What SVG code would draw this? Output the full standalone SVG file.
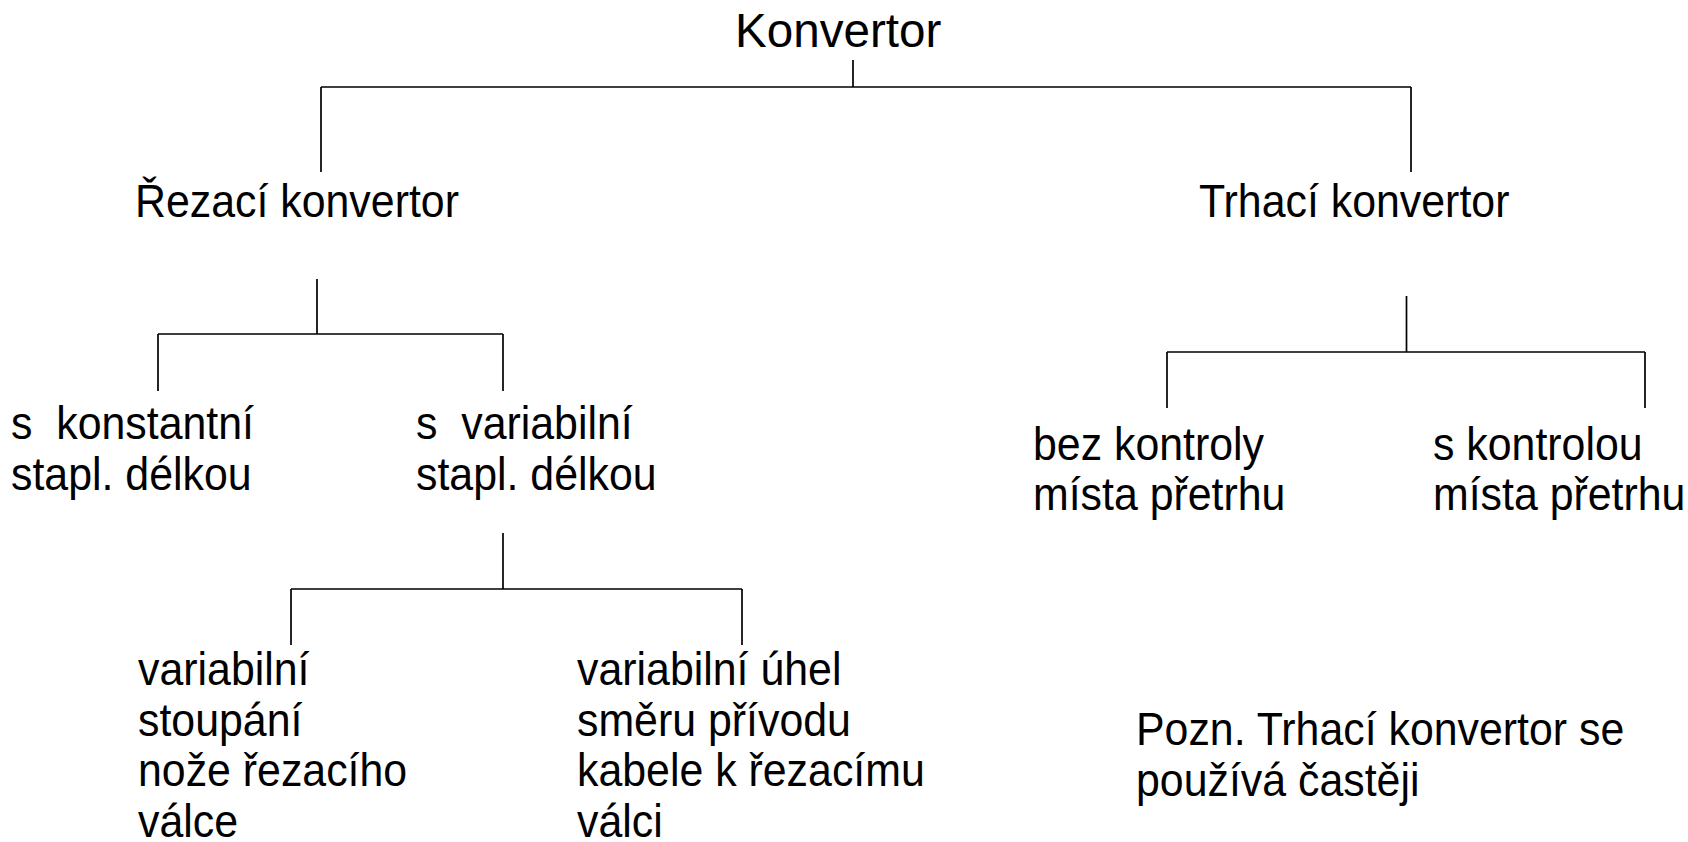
<svg xmlns="http://www.w3.org/2000/svg" width="1688" height="842" viewBox="0 0 1688 842">
<style>
.t{font-family:"Liberation Sans",Arial,sans-serif;font-size:47px;fill:#000;}
.c{stroke:#000;fill:none;stroke-width:1.7;}
</style>
<rect width="1688" height="842" fill="#fff"/>
<g id="connectors">
<path class="c" d="M853,60V87M321,87H1411M321,87V172M1411,87V172"/>
<path class="c" d="M317,279V334M158,334H503M158,334V391M503,334V391"/>
<path class="c" d="M1406.5,296V352M1167,352H1645M1167,352V408M1645,352V408"/>
<path class="c" d="M503,533V589M291,589H742M291,589V645M742,589V645"/>
</g>
<g id="n-konvertor"><text class="t" x="735" y="47" style="font-size:47.6px">Konvertor</text></g>
<g id="n-rezaci"><text class="t" transform="translate(135,217) scale(0.912,1)">Řezací konvertor</text></g>
<g id="n-trhaci"><text class="t" transform="translate(1199,217) scale(0.912,1)">Trhací konvertor</text></g>
<g id="n-konst"><text class="t" xml:space="preserve" transform="translate(11,439) scale(0.912,1)"><tspan x="0" y="0">s  konstantní</tspan><tspan x="0" y="51">stapl. délkou</tspan></text></g>
<g id="n-var"><text class="t" xml:space="preserve" transform="translate(416,439) scale(0.912,1)"><tspan x="0" y="0">s  variabilní</tspan><tspan x="0" y="51">stapl. délkou</tspan></text></g>
<g id="n-bez"><text class="t" transform="translate(1033,460) scale(0.912,1)"><tspan x="0" y="0">bez kontroly</tspan><tspan x="0" y="50">místa přetrhu</tspan></text></g>
<g id="n-skontr"><text class="t" transform="translate(1433,460) scale(0.912,1)"><tspan x="0" y="0">s kontrolou</tspan><tspan x="0" y="50">místa přetrhu</tspan></text></g>
<g id="n-stoupani"><text class="t" transform="translate(138,685) scale(0.912,1)"><tspan x="0" y="0">variabilní</tspan><tspan x="0" y="50.7">stoupání</tspan><tspan x="0" y="101.4">nože řezacího</tspan><tspan x="0" y="152">válce</tspan></text></g>
<g id="n-uhel"><text class="t" transform="translate(577,685) scale(0.912,1)"><tspan x="0" y="0">variabilní úhel</tspan><tspan x="0" y="50.7">směru přívodu</tspan><tspan x="0" y="101.4">kabele k řezacímu</tspan><tspan x="0" y="152">válci</tspan></text></g>
<g id="n-pozn"><text class="t" transform="translate(1136,745) scale(0.912,1)"><tspan x="0" y="0">Pozn. Trhací konvertor se</tspan><tspan x="0" y="51">používá častěji</tspan></text></g>
</svg>
